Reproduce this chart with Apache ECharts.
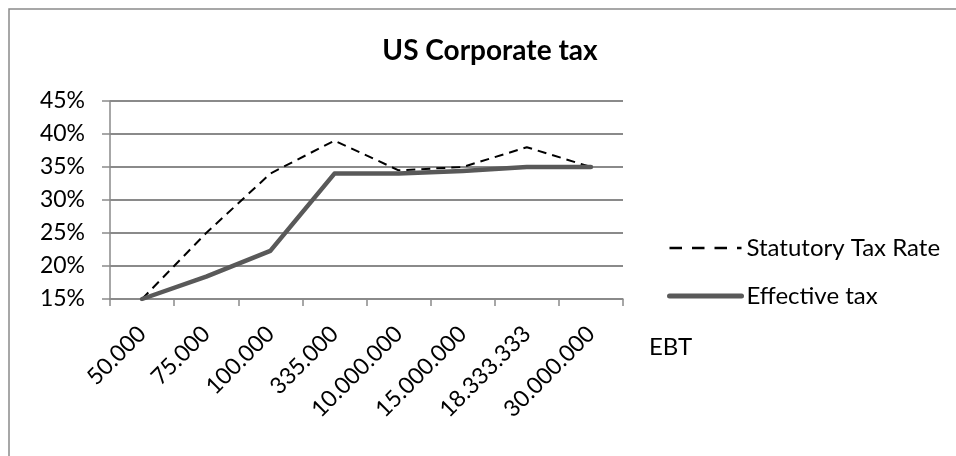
<!DOCTYPE html>
<html>
<head>
<meta charset="utf-8">
<script src="https://cdn.jsdelivr.net/npm/echarts@6/dist/echarts.min.js"></script>
<style>html,body{margin:0;padding:0;background:#fff;}#c{width:956px;height:456px;}</style>
</head>
<body>
<div id="c"></div>
<script>
const categories = ['50.000','75.000','100.000','335.000','10.000.000','15.000.000','18.333.333','30.000.000'];
const statutory = [15, 25, 34, 39, 34.5, 35, 38, 35];
const effective = [15, 18.4, 22.3, 34, 34, 34.4, 35, 35];
const yTicks = {min: 15, max: 45, interval: 5};
const FONT = 'Lato, "Open Sans", sans-serif';

const chart = echarts.init(document.getElementById('c'));
chart.setOption({
  animation: false,
  backgroundColor: '#fff',
  title: {
    text: 'US Corporate tax', left: 485, top: 32, textAlign: 'center',
    textStyle: {fontFamily: FONT, fontWeight: 'bold', fontSize: 28, color: '#000'}
  },
  graphic: [{
    type: 'rect', shape: {x: 9, y: 9, width: 1000, height: 500},
    style: {fill: 'none', stroke: '#8a8a8a', lineWidth: 1.5}, silent: true
  }],
  legend: {
    orient: 'vertical', left: 662, top: 231, itemGap: 24, itemWidth: 72, itemHeight: 24,
    itemStyle: {opacity: 0},
    textStyle: {fontFamily: FONT, fontSize: 24, lineHeight: 24, color: '#000'},
    data: [
      {name: 'Statutory Tax Rate', lineStyle: {width: 2.5, type: [12.5, 10], color: '#000'}},
      {name: 'Effective tax', lineStyle: {width: 5, color: '#595959', cap: 'round'}}
    ]
  },
  grid: {left: 110, right: 333, top: 101, bottom: 157},
  xAxis: {
    type: 'category', data: categories, boundaryGap: true,
    name: 'EBT', nameLocation: 'end', nameGap: 26,
    nameTextStyle: {fontFamily: FONT, fontSize: 24, color: '#000', verticalAlign: 'top', align: 'left', padding: [36, 0, 0, 0]},
    axisLine: {show: true, lineStyle: {color: '#8a8a8a', width: 1.5}},
    axisTick: {show: true, length: 7, interval: 0, lineStyle: {color: '#8a8a8a', width: 1.5}},
    axisLabel: {rotate: 45, margin: 31, interval: 0, fontFamily: FONT, fontSize: 23, color: '#000'}
  },
  yAxis: {
    type: 'value', min: yTicks.min, max: yTicks.max, interval: yTicks.interval,
    axisLine: {show: true, lineStyle: {color: '#8a8a8a', width: 1.5}},
    axisTick: {show: true, length: 8, lineStyle: {color: '#8a8a8a', width: 1.5}},
    splitLine: {show: true, lineStyle: {color: '#8a8a8a', width: 2}},
    axisLabel: {formatter: '{value}%', margin: 25, fontFamily: FONT, fontSize: 23, color: '#000'}
  },
  series: [
    {name: 'Statutory Tax Rate', type: 'line', data: statutory, symbol: 'none',
     lineStyle: {color: '#000', width: 2, type: [9, 6]}, itemStyle: {color: '#000'}},
    {name: 'Effective tax', type: 'line', data: effective, symbol: 'none',
     lineStyle: {color: '#595959', width: 4.5, cap: 'round', join: 'round'}, itemStyle: {color: '#595959'}}
  ]
});
</script>
</body>
</html>
